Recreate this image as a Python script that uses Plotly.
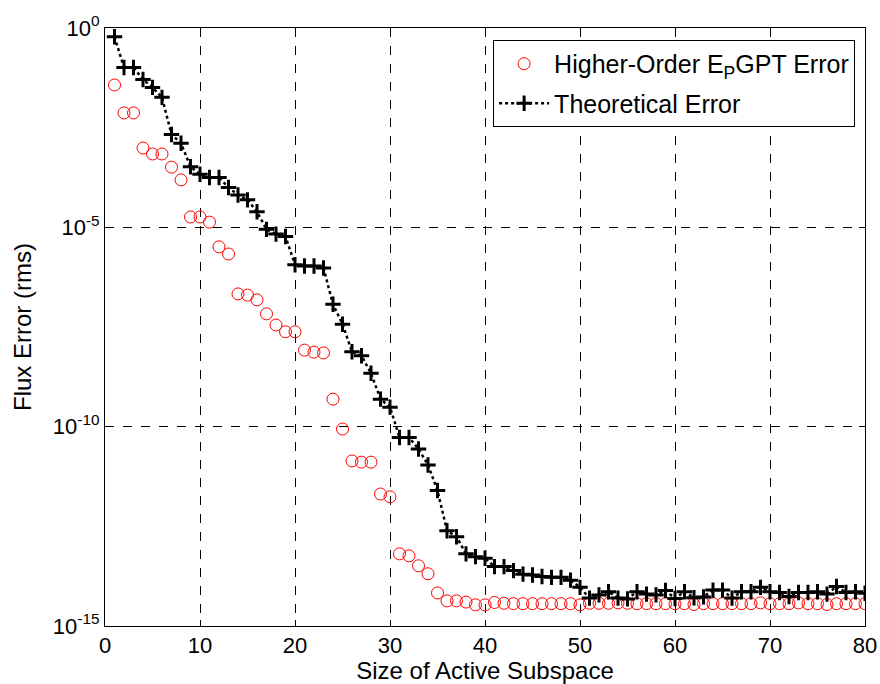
import plotly.graph_objects as go

# subspace sizes
sizes = list(range(1, 81))

# log10 of Higher-Order EPGPT error
epgpt_log = [
    -1.43, -2.13, -2.13, -3.01, -3.16, -3.16, -3.49, -3.81, -4.74, -4.74,
    -4.87, -5.49, -5.67, -6.67, -6.70, -6.82, -7.17, -7.45, -7.62, -7.62,
    -8.08, -8.13, -8.15, -9.31, -10.06, -10.86, -10.89, -10.89, -11.69, -11.76,
    -13.19, -13.24, -13.49, -13.69, -14.17, -14.37, -14.37, -14.40, -14.47, -14.47,
    -14.41, -14.43, -14.44, -14.44, -14.44, -14.44, -14.44, -14.44, -14.44, -14.47,
    -14.43, -14.43, -14.43, -14.42, -14.43, -14.44, -14.44, -14.44, -14.44, -14.44,
    -14.44, -14.46, -14.44, -14.44, -14.44, -14.44, -14.44, -14.44, -14.42, -14.44,
    -14.44, -14.44, -14.42, -14.44, -14.44, -14.46, -14.44, -14.44, -14.44, -14.44,
]

# log10 of theoretical error
theory_log = [
    -0.22, -0.99, -0.99, -1.29, -1.49, -1.74, -2.67, -2.89, -3.48, -3.67,
    -3.75, -3.75, -4.00, -4.19, -4.31, -4.61, -5.05, -5.17, -5.23, -5.94,
    -5.97, -5.97, -6.02, -6.93, -7.43, -8.12, -8.22, -8.66, -9.31, -9.51,
    -10.27, -10.27, -10.56, -10.96, -11.60, -12.61, -12.76, -13.19, -13.26, -13.30,
    -13.51, -13.51, -13.61, -13.70, -13.72, -13.76, -13.78, -13.78, -13.85, -14.03,
    -14.30, -14.22, -14.14, -14.30, -14.32, -14.14, -14.20, -14.22, -14.11, -14.31,
    -14.14, -14.29, -14.27, -14.10, -14.10, -14.30, -14.14, -14.14, -14.03, -14.14,
    -14.16, -14.26, -14.16, -14.16, -14.14, -14.20, -14.01, -14.16, -14.14, -14.18,
]

epgpt = [10 ** v for v in epgpt_log]
theory = [10 ** v for v in theory_log]

ytick_vals = [1e-15, 1e-10, 1e-5, 1]
ytick_text = ["10<sup>-15</sup>", "10<sup>-10</sup>", "10<sup>-5</sup>", "10<sup>0</sup>"]
xtick_vals = [0, 10, 20, 30, 40, 50, 60, 70, 80]

font_family = "Liberation Sans, Arial, sans-serif"

fig = go.Figure()
fig.add_trace(go.Scatter(
    x=sizes, y=epgpt, mode="markers",
    name="Higher-Order E<sub>P</sub>GPT Error", legendgroup="a",
    marker=dict(symbol="circle-open", size=12, color="#ff0000", line=dict(width=1, color="#ff0000")),
))
fig.add_trace(go.Scatter(
    x=sizes, y=theory, mode="lines+markers",
    name="Theoretical Error", legendgroup="b",
    line=dict(color="black", width=2.5, dash="dot"),
    marker=dict(symbol="cross-thin", size=11, color="black", line=dict(width=3, color="black")),
))

axis_common = dict(
    showline=True, linecolor="black", linewidth=1, mirror="ticks",
    ticks="inside", ticklen=6, tickcolor="black",
    showgrid=True, gridcolor="black", griddash="dash", gridwidth=1,
    zeroline=False, automargin=False,
    tickfont=dict(family=font_family, size=22, color="black"),
)

fig.update_xaxes(
    range=[0, 80], tickvals=xtick_vals,
    title=dict(text="Size of Active Subspace", font=dict(family=font_family, size=24, color="black"), standoff=0),
    **axis_common,
)
fig.update_yaxes(
    type="log", range=[-15, 0], tickvals=ytick_vals, ticktext=ytick_text,
    title=dict(text="Flux Error (rms)", font=dict(family=font_family, size=24, color="black"), standoff=14),
    **axis_common,
)

fig.update_layout(
    width=880, height=684,
    margin=dict(l=105, r=15, t=28, b=58, autoexpand=False),
    paper_bgcolor="white", plot_bgcolor="white",
    font=dict(family=font_family, size=22, color="black"),
    legend=dict(
        x=0.987, y=0.98, xanchor="right", yanchor="top",
        bgcolor="white", bordercolor="black", borderwidth=1,
        font=dict(family=font_family, size=25, color="black"),
        traceorder="grouped", tracegroupgap=4, itemwidth=50,
    ),
    showlegend=True,
)

fig.write_html("out.html")
